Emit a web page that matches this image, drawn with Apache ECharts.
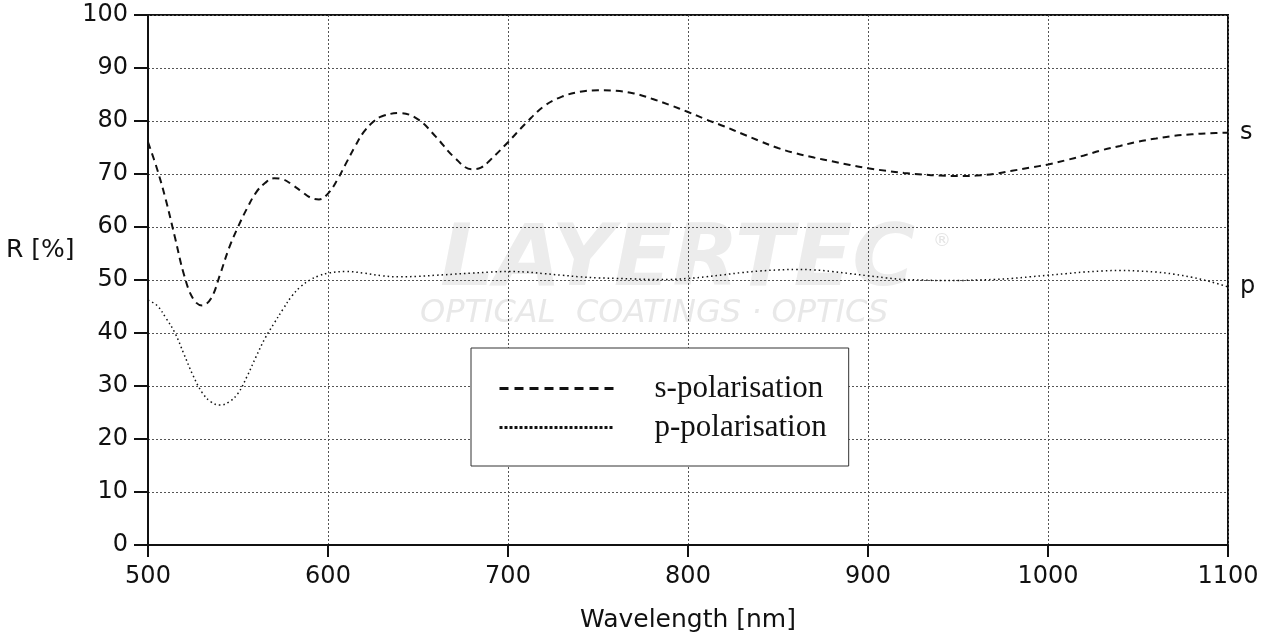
<!DOCTYPE html>
<html>
<head>
<meta charset="utf-8">
<script src="https://cdn.jsdelivr.net/npm/echarts@6/dist/echarts.min.js"></script>
<style>html,body{margin:0;padding:0;background:#fff}#c{width:1274px;height:636px}</style>
</head>
<body>
<div id="c"></div>
<script>
const wavelengths = [500,505,510,515,520,525,530,535,540,545,550,555,560,565,570,575,580,585,590,595,600,605,610,615,620,625,630,640,650,660,670,680,685,690,700,710,720,730,740,750,760,770,780,790,800,810,820,830,840,850,860,870,880,890,900,910,920,930,940,950,960,970,980,990,1000,1010,1020,1030,1040,1050,1060,1070,1080,1090,1100];
const sPol = [76,71,65,58,51,46.5,45.2,46.5,51,56,60,63.5,66.5,68.3,69.2,69,68,66.8,65.6,65.2,66.3,68.8,72,75.2,78,79.8,80.9,81.5,80.3,77,73.2,70.9,71.2,72.6,76,79.6,82.8,84.6,85.5,85.8,85.7,85.2,84.2,83,81.7,80.3,79,77.6,76.2,74.9,73.9,73.1,72.4,71.7,71.1,70.6,70.2,69.9,69.7,69.6,69.7,70,70.6,71.2,71.8,72.6,73.5,74.5,75.3,76.1,76.7,77.2,77.5,77.7,77.8];
const pWavelengths = [500,505,510,515,520,525,530,535,540,545,550,555,560,565,570,575,580,585,590,595,600,610,620,630,640,650,660,670,680,690,700,710,720,730,740,750,760,770,780,790,800,810,820,830,840,850,860,870,880,890,900,910,920,930,940,950,960,970,980,990,1000,1010,1020,1030,1040,1050,1060,1070,1080,1090,1100];
const pPol = [46.2,45.2,42.8,40,36,32,28.8,27,26.4,27,28.6,31.8,35.5,39,41.8,44.5,47,48.8,50,50.8,51.3,51.6,51.3,50.8,50.6,50.7,50.9,51.1,51.3,51.5,51.6,51.5,51.2,50.9,50.6,50.4,50.3,50.2,50.1,50.1,50.3,50.6,51,51.4,51.7,51.9,52,51.9,51.6,51.2,50.8,50.4,50.1,50,49.9,49.9,50,50.1,50.3,50.6,50.9,51.2,51.5,51.7,51.8,51.7,51.5,51.1,50.5,49.7,48.7];
const seriesNames = ['s-polarisation','p-polarisation'];
const endNames = ['s','p'];
const xTitle = 'Wavelength [nm]';
const yTitle = 'R [%]';

const chart = echarts.init(document.getElementById('c'));
const sansFont = 'DejaVu Sans';
const gridLine = {show:true, lineStyle:{color:'#555', width:1, type:[2,2]}};
chart.setOption({
  animation:false,
  backgroundColor:'#fff',
  color:['#111','#111'],
  grid:{left:148,right:46,top:15,bottom:91,show:true,borderColor:'#111',borderWidth:2,containLabel:false,outerBoundsMode:'none'},
  graphic:[
    {type:'text', left:6, top:238, z:10, style:{text:yTitle, font:'25px "DejaVu Sans"', fill:'#111'}},
    {type:'text', left:440, top:220, z:-1, silent:true, style:{text:'LAYERTEC', font:'italic 900 86px "DejaVu Sans"', fill:'#ececec'}},
    {type:'text', left:420, top:298, z:-1, silent:true, style:{text:'OPTICAL  COATINGS · OPTICS', font:'italic 200 32px "DejaVu Sans"', fill:'#e8e8e8'}},
    {type:'text', left:933, top:232, z:-1, silent:true, style:{text:'®', font:'18px "DejaVu Sans"', fill:'#e4e4e4'}}
  ],
  legend:{
    left:471, top:348, orient:'vertical',
    itemWidth:114, itemHeight:30, itemGap:8,
    padding:[25,22,23,27],
    backgroundColor:'#fff', borderColor:'#333', borderWidth:1, borderRadius:0,
    itemStyle:{opacity:0},
    textStyle:{fontFamily:'Liberation Serif', fontSize:31, color:'#111', padding:[0,0,0,36]},
    data:[
      {name:seriesNames[0], itemStyle:{opacity:0}, lineStyle:{width:3, type:[9,6], color:'#111'}},
      {name:seriesNames[1], itemStyle:{opacity:0}, lineStyle:{width:3, type:[3,2], color:'#111'}}
    ]
  },
  xAxis:{
    type:'value', min:500, max:1100, interval:100,
    name:xTitle, nameLocation:'middle', nameGap:63,
    nameTextStyle:{fontFamily:sansFont, fontSize:25, color:'#111'},
    axisLine:{show:true, onZero:false, lineStyle:{color:'#111', width:2}},
    axisTick:{show:true, length:12, lineStyle:{color:'#111', width:2}},
    axisLabel:{fontFamily:sansFont, fontSize:24, color:'#111', margin:20, formatter:v=>String(v)},
    splitLine:gridLine
  },
  yAxis:{
    type:'value', min:0, max:100, interval:10,
    axisLine:{show:true, lineStyle:{color:'#111', width:2}},
    axisTick:{show:true, length:14, lineStyle:{color:'#111', width:2}},
    axisLabel:{fontFamily:sansFont, fontSize:24, color:'#111', margin:20, formatter:v=>String(v)},
    splitLine:gridLine
  },
  series:[
    {name:seriesNames[0], type:'line', smooth:0.4, symbol:'none',
     data:wavelengths.map((w,i)=>[w,sPol[i]]),
     itemStyle:{color:'#111'},
     lineStyle:{color:'#111', width:2, type:[7,5]},
     endLabel:{show:true, formatter:endNames[0], distance:12, fontFamily:sansFont, fontSize:24, color:'#111'}},
    {name:seriesNames[1], type:'line', smooth:0.4, symbol:'none',
     data:pWavelengths.map((w,i)=>[w,pPol[i]]),
     itemStyle:{color:'#111'},
     lineStyle:{color:'#111', width:1.5, type:[1.5,3]},
     endLabel:{show:true, formatter:endNames[1], distance:12, fontFamily:sansFont, fontSize:24, color:'#111'}}
  ]
});
</script>
</body>
</html>
